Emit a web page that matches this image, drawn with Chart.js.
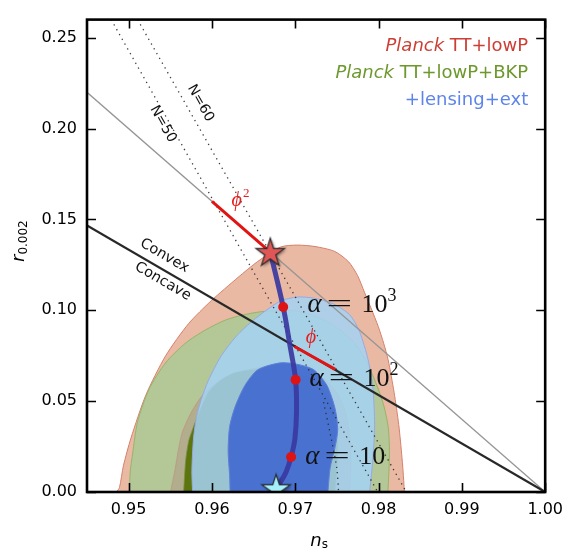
<!DOCTYPE html>
<html><head><meta charset="utf-8">
<script src="https://cdn.jsdelivr.net/npm/chart.js@4.4.1/dist/chart.umd.min.js"></script>
<style>html,body{margin:0;padding:0;background:#fff;}</style>
</head><body>
<canvas id="c" width="571" height="548"></canvas>
<script>
// ---------- data ----------
const xTickValues = [0.95, 0.96, 0.97, 0.98, 0.99, 1.00];
const xTickLabels = ['0.95', '0.96', '0.97', '0.98', '0.99', '1.00'];
const yTickValues = [0.00, 0.05, 0.10, 0.15, 0.20, 0.25];
const yTickLabels = ['0.00', '0.05', '0.10', '0.15', '0.20', '0.25'];
const nsRange = [0.945, 1.0];
const rRange = [0, 0.26];

// Planck TT+lowP 95%
const red2Ns = [0.94854,0.94890,0.94937,0.95028,0.95206,0.95443,0.95720,0.95992,0.96313,0.96550,0.96822,0.97024,0.97237,0.97474,0.97640,0.97747,0.97830,0.97913,0.97996,0.98061,0.98115,0.98186,0.98242,0.98281,0.98302,0.98308];
const red2R  = [0,0.0025,0.0144,0.0297,0.0533,0.0749,0.0927,0.1053,0.1181,0.1269,0.1348,0.1359,0.1351,0.1324,0.1267,0.1192,0.1100,0.1008,0.0911,0.0819,0.0727,0.0549,0.0371,0.0189,0.0063,0];
// Planck TT+lowP 68%
const red1Ns = [0.95503,0.95554,0.95637,0.95755,0.95898,0.96135,0.96431,0.96728,0.97024,0.97285,0.97498,0.97617,0.97664,0.97664,0.97652];
const red1R  = [0,0.0117,0.0317,0.0441,0.0538,0.0625,0.0673,0.0695,0.0690,0.0646,0.0549,0.0414,0.0252,0.0117,0];
// Planck TT+lowP+BKP 95%
const green2Ns = [0.95008,0.95020,0.95047,0.95107,0.95246,0.95443,0.95681,0.95918,0.96155,0.96348,0.96585,0.96822,0.97024,0.97222,0.97380,0.97558,0.97712,0.97830,0.97925,0.97996,0.98067,0.98115,0.98130,0.98127,0.98112];
const green2R  = [0,0.0117,0.0209,0.0387,0.0567,0.0711,0.0819,0.0891,0.0945,0.0972,0.0992,0.0999,0.0995,0.0970,0.0938,0.0884,0.0819,0.0738,0.0647,0.0567,0.0468,0.0360,0.0252,0.0144,0];
// Planck TT+lowP+BKP 68%
const green1Ns = [0.95660,0.95684,0.95720,0.95767,0.95838,0.95957,0.96099,0.96277,0.96585,0.96905,0.97190,0.97380,0.97475,0.97510,0.97499,0.97475];
const green1R  = [0,0.0171,0.0279,0.0344,0.0430,0.0549,0.0614,0.0657,0.0679,0.0673,0.0630,0.0549,0.0430,0.0279,0.0117,0];
// +lensing+ext 95%
const blue2Ns = [0.95767,0.95759,0.95779,0.95815,0.95874,0.95957,0.96111,0.96313,0.96550,0.96822,0.97024,0.97222,0.97459,0.97652,0.97771,0.97874,0.97933,0.97952,0.97933,0.97893];
const blue2R  = [0,0.0117,0.0297,0.0414,0.0513,0.0614,0.0749,0.0868,0.0965,0.1051,0.1073,0.1067,0.1035,0.0976,0.0884,0.0729,0.0567,0.0371,0.0189,0];
// +lensing+ext 68%
const blue1Ns = [0.96218,0.96212,0.96194,0.96212,0.96277,0.96396,0.96550,0.96822,0.97024,0.97222,0.97380,0.97478,0.97510,0.97475,0.97419,0.97392];
const blue1R  = [0,0.0090,0.0225,0.0360,0.0468,0.0587,0.0673,0.0711,0.0703,0.0673,0.0587,0.0459,0.0344,0.0241,0.0133,0];

// reference lines
const convexNs = [0.945, 1.0];
const convexR  = [0.14667, 0];
const grayNs = [0.945, 1.0];
const grayR  = [0.22, 0];
const n50Ns = [0.9479, 0.9799];
const n50R  = [0.26, 0];
const n60Ns = [0.95107, 0.98333];
const n60R  = [0.26, 0];
const n50BranchNs = [0.9734, 0.9742, 0.97497, 0.9752];
const n50BranchR  = [0.0495, 0.0320, 0.0135, 0];
const phi2Ns = [0.9600, 0.9670];
const phi2R  = [0.1600, 0.1320];
const phi1Ns = [0.9699, 0.9748];
const phi1R  = [0.0801, 0.0675];
// alpha-attractor track
const alphaNs = [0.9670,0.96855,0.96935,0.97004,0.97015,0.96995,0.96950,0.96890,0.96810,0.9677];
const alphaR  = [0.1320,0.1018,0.0810,0.0618,0.0440,0.0290,0.0193,0.0110,0.0045,0.0020];
const alphaDotNs = [0.96855, 0.97004, 0.96950];
const alphaDotR  = [0.1018, 0.0618, 0.0193];
const alphaDotLabels = ['3', '2', ''];
const starRedNs = [0.9670];
const starRedR  = [0.1320];
const starBlueNs = [0.9677];
const starBlueR  = [0.0020];

// ---------- helpers ----------
const pts = (xs, ys) => xs.map((x, i) => ({x, y: ys[i]}));

function makeStar(fill) {
  const c = document.createElement('canvas');
  c.width = 40; c.height = 40;
  const g = c.getContext('2d');
  const R = 15, r = R * 0.382;
  const path = () => {
    g.beginPath();
    for (let k = 0; k < 10; k++) {
      const rad = k % 2 === 0 ? R : r;
      const a = -Math.PI / 2 + k * Math.PI / 5;
      const px = 20 + rad * Math.cos(a), py = 21 + rad * Math.sin(a);
      k === 0 ? g.moveTo(px, py) : g.lineTo(px, py);
    }
    g.closePath();
  };
  g.save();
  g.shadowColor = 'rgba(0,0,0,0.45)';
  g.shadowBlur = 3; g.shadowOffsetX = 1.5; g.shadowOffsetY = 1.5;
  path(); g.fillStyle = fill; g.fill();
  g.restore();
  path(); g.lineWidth = 1.2; g.strokeStyle = '#2a2a2a'; g.stroke();
  return c;
}
const redStar = makeStar('#e05656');
const blueStar = makeStar('#a4f0fb');

function contour(data, bg, border, order) {
  return {data, showLine: true, fill: 'shape', backgroundColor: bg, borderColor: border,
          borderWidth: 1, pointRadius: 0, tension: 0.25, order};
}
function line(data, color, width, order, dash) {
  return {data, showLine: true, fill: false, borderColor: color, borderWidth: width,
          borderDash: dash || [], pointRadius: 0, tension: 0, order, borderCapStyle: 'butt'};
}
const DOT = [1.3, 4.2];
const datasets = [
  contour(pts(red2Ns, red2R), 'rgb(233,185,163)', 'rgb(214,128,108)', 100),
  contour(pts(green2Ns, green2R), 'rgb(179,199,151)', 'rgb(150,180,105)', 99),
  contour(pts(red1Ns, red1R), 'rgb(178,173,140)', 'rgba(190,150,130,0.8)', 98),
  contour(pts(green1Ns, green1R), 'rgb(92,117,12)', 'rgba(120,145,70,0.8)', 97),
  contour(pts(blue2Ns, blue2R), 'rgba(165,210,245,0.85)', 'rgb(150,170,228)', 96),
  contour(pts(blue1Ns, blue1R), 'rgba(70,110,208,0.96)', 'rgb(95,128,215)', 95),
  line(pts(grayNs, grayR), 'rgb(150,150,150)', 1.3, 60),
  line(pts(convexNs, convexR), 'rgb(40,40,40)', 2.2, 59),
  line(pts(n50Ns, n50R), 'rgba(40,40,40,0.9)', 1.3, 58, DOT),
  line(pts(n60Ns, n60R), 'rgba(40,40,40,0.9)', 1.3, 57, DOT),
  {...line(pts(n50BranchNs, n50BranchR), 'rgba(40,40,40,0.9)', 1.3, 56, DOT), tension: 0.3},
  line(pts(phi2Ns, phi2R), 'rgb(225,20,20)', 3, 40),
  line(pts(phi1Ns, phi1R), 'rgb(225,20,20)', 3, 40),
  {data: pts(alphaNs, alphaR), showLine: true, fill: false, borderColor: 'rgba(58,56,160,0.92)',
   borderWidth: 5, pointRadius: 0, tension: 0.35, order: 30},
  {data: pts(alphaDotNs, alphaDotR), showLine: false, pointRadius: 5, pointBackgroundColor: 'rgb(222,20,20)',
   pointBorderWidth: 0, order: 20},
  {data: pts(starRedNs, starRedR), showLine: false, pointStyle: redStar, pointRadius: 14, order: 10},
  {data: pts(starBlueNs, starBlueR), showLine: false, pointStyle: blueStar, pointRadius: 14, order: 10}
];

const TICK_FONT = {family: 'DejaVu Sans', size: 16};

const framePlugin = {
  id: 'frame',
  afterDatasetsDraw(chart) {
    const {ctx, chartArea: a, scales: {x, y}} = chart;
    ctx.save();
    ctx.strokeStyle = '#000';
    ctx.lineWidth = 1.6;
    const L = 9;
    ctx.beginPath();
    xTickValues.forEach(v => {
      const px = Math.round(x.getPixelForValue(v)) + 0.5;
      ctx.moveTo(px, a.bottom); ctx.lineTo(px, a.bottom - L);
      ctx.moveTo(px, a.top); ctx.lineTo(px, a.top + L);
    });
    yTickValues.forEach(v => {
      const py = Math.round(y.getPixelForValue(v)) + 0.5;
      ctx.moveTo(a.left, py); ctx.lineTo(a.left + L, py);
      ctx.moveTo(a.right, py); ctx.lineTo(a.right - L, py);
    });
    ctx.stroke();
    ctx.lineWidth = 2.6;
    ctx.strokeRect(a.left, a.top, a.right - a.left, a.bottom - a.top);
    ctx.restore();
  }
};

function runs(ctx, x, y, parts, align) {
  let w = 0;
  parts.forEach(p => { ctx.font = p.f; p.w = ctx.measureText(p.t).width * (p.sx || 1) + (p.gap || 0); w += p.w + (p.pre || 0); });
  let cx = align === 'right' ? x - w : (align === 'center' ? x - w / 2 : x);
  parts.forEach(p => {
    cx += (p.pre || 0);
    ctx.font = p.f; ctx.fillStyle = p.c;
    if (p.sx) {
      ctx.save(); ctx.translate(cx, y + (p.dy || 0)); ctx.scale(p.sx, 1);
      ctx.fillText(p.t, 0, 0); ctx.restore();
    } else {
      ctx.fillText(p.t, cx, y + (p.dy || 0));
    }
    cx += p.w;
  });
}

const textPlugin = {
  id: 'texts',
  afterDraw(chart) {
    const {ctx, chartArea: a, scales: {x, y}} = chart;
    const X = v => x.getPixelForValue(v), Y = v => y.getPixelForValue(v);
    ctx.save();
    ctx.textBaseline = 'alphabetic';
    ctx.textAlign = 'left';
    // legend
    const sans = 'DejaVu Sans';
    const red = 'rgb(204,62,52)', green = 'rgb(108,152,44)', blue = 'rgb(92,132,234)';
    const lx = a.right - 17;
    const LF = 18;
    runs(ctx, lx, a.top + 31, [{t: 'Planck', f: `italic ${LF}px ${sans}`, c: red}, {t: ' TT+lowP', f: `${LF}px ${sans}`, c: red}], 'right');
    runs(ctx, lx, a.top + 58, [{t: 'Planck', f: `italic ${LF}px ${sans}`, c: green}, {t: ' TT+lowP+BKP', f: `${LF}px ${sans}`, c: green}], 'right');
    runs(ctx, lx, a.top + 85, [{t: '+lensing+ext', f: `${LF}px ${sans}`, c: blue}], 'right');

    // alpha labels
    const serif = 'Liberation Serif';
    const alphaLabelNs = [0.97146, 0.97170, 0.97119];
    const alphaLabelR = [0.0990, 0.0585, 0.0153];
    alphaLabelNs.forEach((ns, i) => {
      const x0 = X(ns), y0 = Y(alphaLabelR[i]);
      ctx.fillStyle = '#111';
      ctx.font = `italic 27px ${serif}`; ctx.fillText('α', x0, y0);
      ctx.save(); ctx.translate(x0 + 19, y0); ctx.scale(1.75, 1);
      ctx.font = `26px ${serif}`; ctx.fillText('=', 0, 0); ctx.restore();
      ctx.font = `26px ${serif}`; ctx.fillText('10', x0 + 54, y0);
      if (alphaDotLabels[i]) { ctx.font = `18px ${serif}`; ctx.fillText(alphaDotLabels[i], x0 + 80, y0 - 11); }
    });

    // phi labels
    const phiRed = 'rgb(228,30,30)';
    runs(ctx, X(0.96235), Y(0.1575), [{t: 'ϕ', f: `italic 20px ${serif}`, c: phiRed}, {t: '2', f: `13px ${serif}`, c: phiRed, dy: -9, pre: 1}], 'left');
    runs(ctx, X(0.97125), Y(0.0820), [{t: 'ϕ', f: `italic 20px ${serif}`, c: phiRed}], 'left');

    // rotated labels
    function rot(txt, ns, r, ang, font) {
      ctx.save();
      ctx.translate(X(ns), Y(r));
      ctx.rotate(ang);
      ctx.font = font; ctx.fillStyle = '#111';
      ctx.textAlign = 'center'; ctx.textBaseline = 'middle';
      ctx.fillText(txt, 0, 0);
      ctx.restore();
    }
    const angOf = (xs, ys) => Math.atan2(Y(ys[1]) - Y(ys[0]), X(xs[1]) - X(xs[0]));
    const aConv = angOf(convexNs, convexR);
    rot('Convex', 0.95430, 0.1300, aConv, `14.5px ${sans}`);
    rot('Concave', 0.95410, 0.1159, aConv, `14.5px ${sans}`);
    rot('N=50', 0.95411, 0.2025, angOf(n50Ns, n50R), `14px ${sans}`);
    rot('N=60', 0.95862, 0.2140, angOf(n60Ns, n60R), `14px ${sans}`);

    // axis titles
    ctx.textAlign = 'left'; ctx.textBaseline = 'alphabetic';
    const cx = (a.left + a.right) / 2 + 3;
    runs(ctx, cx, 546, [{t: 'n', f: `italic 18px ${sans}`, c: '#000'}, {t: 's', f: `12px ${sans}`, c: '#000', dy: 2}], 'center');
    ctx.save();
    ctx.translate(24, 262);
    ctx.rotate(-Math.PI / 2);
    runs(ctx, 0, 0, [{t: 'r', f: `italic 18px ${sans}`, c: '#000'}, {t: '0.002', f: `12px ${sans}`, c: '#000', dy: 3}], 'left');
    ctx.restore();
    ctx.restore();
  }
};

new Chart(document.getElementById('c'), {
  type: 'scatter',
  data: {datasets},
  options: {
    responsive: false, animation: false, devicePixelRatio: 1,
    layout: {padding: {top: 10, right: 20, left: 0, bottom: 0}},
    plugins: {legend: {display: false}, tooltip: {enabled: false}},
    scales: {
      x: {
        type: 'linear', min: nsRange[0], max: nsRange[1],
        afterBuildTicks: s => { s.ticks = xTickValues.map(v => ({value: v})); },
        afterFit: s => { s.height = 56; },
        ticks: {callback: (v) => xTickLabels[xTickValues.findIndex(t => Math.abs(t - v) < 1e-9)],
                font: TICK_FONT, color: '#000', padding: 8, maxRotation: 0, autoSkip: false},
        grid: {display: false, drawTicks: false}, border: {display: false}
      },
      y: {
        type: 'linear', min: rRange[0], max: rRange[1],
        afterBuildTicks: s => { s.ticks = yTickValues.map(v => ({value: v})); },
        afterFit: s => { s.width = 87; },
        ticks: {callback: (v) => yTickLabels[yTickValues.findIndex(t => Math.abs(t - v) < 1e-9)],
                font: TICK_FONT, color: '#000', padding: 10, autoSkip: false},
        grid: {display: false, drawTicks: false}, border: {display: false}
      }
    }
  },
  plugins: [framePlugin, textPlugin]
});
</script>
</body></html>
